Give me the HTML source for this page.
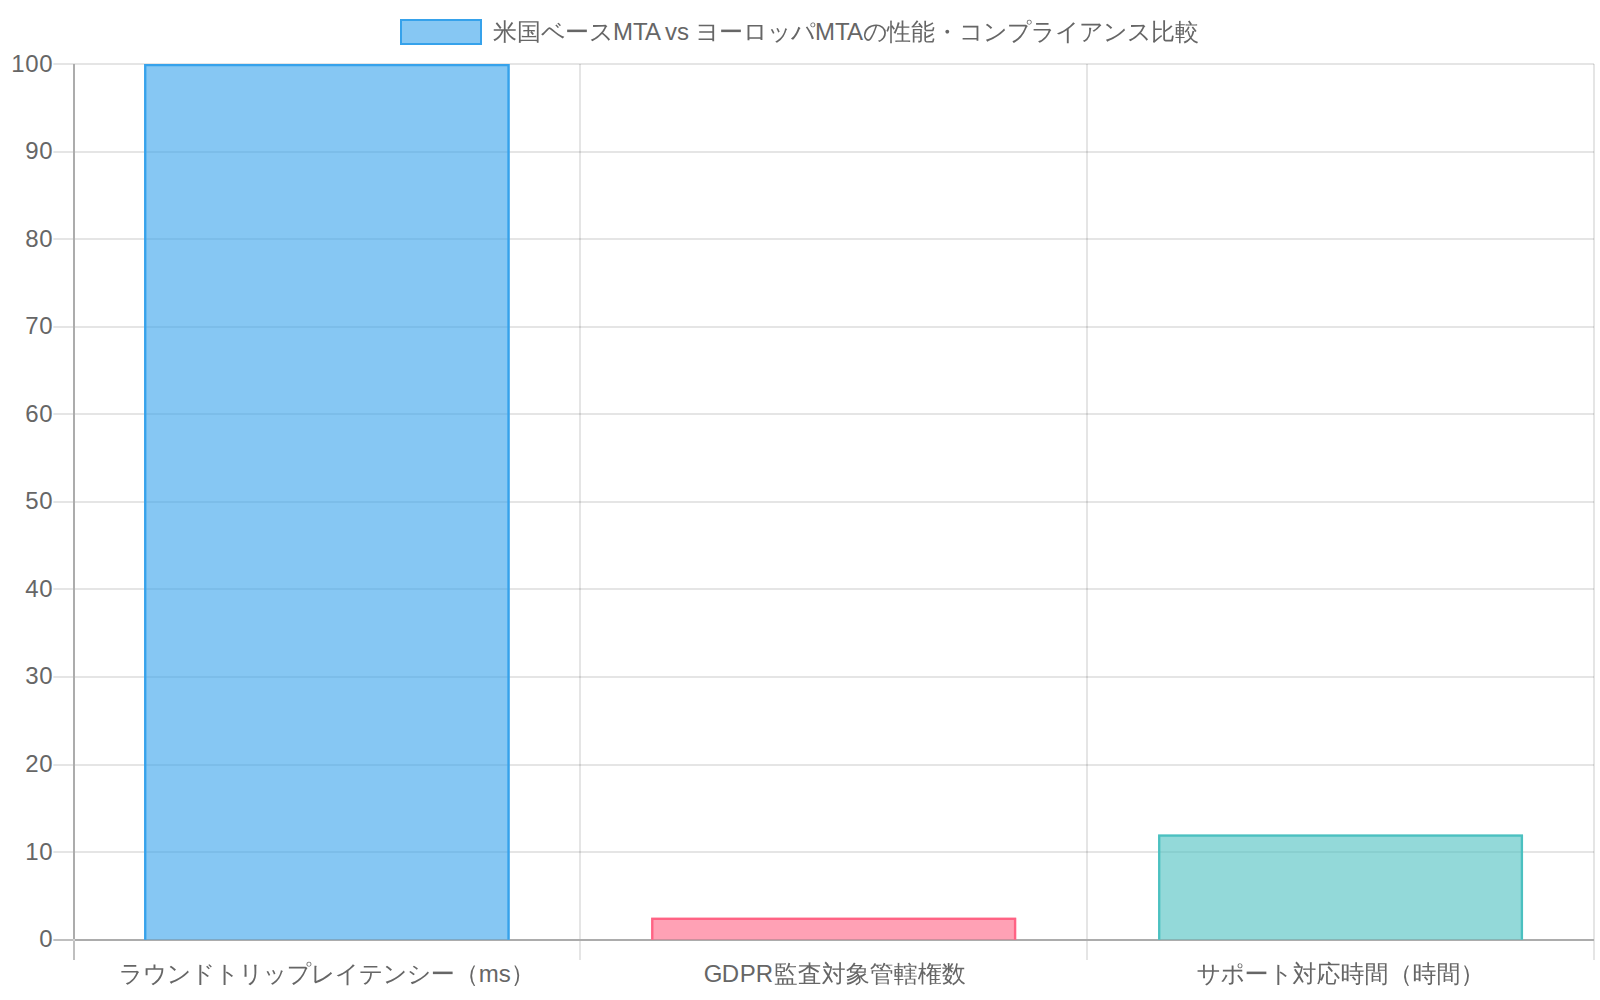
<!DOCTYPE html>
<html lang="ja"><head><meta charset="utf-8"><title>MTA比較</title>
<style>
html,body{margin:0;padding:0;background:#fff;}
body{width:1600px;height:1000px;overflow:hidden;}
svg{display:block;}
text{font-family:"Liberation Sans", "WenQuanYi Zen Hei", "Noto Sans CJK JP", sans-serif;font-size:24px;fill:#666;white-space:pre;}
</style></head><body>
<svg width="1600" height="1000" viewBox="0 0 1600 1000">

<g id="grid">
<rect x="579" y="64" width="2" height="896" fill="rgba(0,0,0,0.1)"/>
<rect x="1086" y="64" width="2" height="896" fill="rgba(0,0,0,0.1)"/>
<rect x="1593" y="64" width="2" height="896" fill="rgba(0,0,0,0.1)"/>
<rect x="53.33" y="63" width="1540.67" height="2" fill="rgba(0,0,0,0.1)"/>
<rect x="53.33" y="151" width="1540.67" height="2" fill="rgba(0,0,0,0.1)"/>
<rect x="53.33" y="238" width="1540.67" height="2" fill="rgba(0,0,0,0.1)"/>
<rect x="53.33" y="326" width="1540.67" height="2" fill="rgba(0,0,0,0.1)"/>
<rect x="53.33" y="413" width="1540.67" height="2" fill="rgba(0,0,0,0.1)"/>
<rect x="53.33" y="501" width="1540.67" height="2" fill="rgba(0,0,0,0.1)"/>
<rect x="53.33" y="588" width="1540.67" height="2" fill="rgba(0,0,0,0.1)"/>
<rect x="53.33" y="676" width="1540.67" height="2" fill="rgba(0,0,0,0.1)"/>
<rect x="53.33" y="764" width="1540.67" height="2" fill="rgba(0,0,0,0.1)"/>
<rect x="53.33" y="851" width="1540.67" height="2" fill="rgba(0,0,0,0.1)"/>
<rect x="53.33" y="939" width="19.67" height="2" fill="rgba(0,0,0,0.25)"/>
<rect x="73" y="941" width="2" height="19" fill="rgba(0,0,0,0.25)"/>
<rect x="73" y="64" width="2" height="875" fill="#acacac"/>
<rect x="75" y="939" width="1519" height="2" fill="#acacac"/>
<rect x="73" y="939" width="2" height="2" fill="#d0d0d0"/>
</g>
<g id="bars">
<rect x="144.10" y="64.00" width="365.55" height="875.65" fill="rgba(54,162,235,0.6)"/>
<path d="M145.25 939.65 V65.15 H508.50 V939.65" fill="none" stroke="rgb(54,162,235)" stroke-width="2.3"/>
<rect x="651.15" y="917.65" width="365.05" height="22.00" fill="rgba(255,99,132,0.6)"/>
<path d="M652.30 939.65 V918.80 H1015.05 V939.65" fill="none" stroke="rgb(255,99,132)" stroke-width="2.3"/>
<rect x="1158.07" y="834.55" width="364.97" height="105.10" fill="rgba(75,192,192,0.6)"/>
<path d="M1159.22 939.65 V835.70 H1521.89 V939.65" fill="none" stroke="rgb(75,192,192)" stroke-width="2.3"/>
</g>
<g id="yticks">
<text x="39.33" y="947.10">0</text>
<text x="25.33 39.33" y="859.55">10</text>
<text x="25.33 39.33" y="771.99">20</text>
<text x="25.33 39.33" y="684.43">30</text>
<text x="25.33 39.33" y="596.88">40</text>
<text x="25.33 39.33" y="509.32">50</text>
<text x="25.33 39.33" y="421.77">60</text>
<text x="25.33 39.33" y="334.21">70</text>
<text x="25.33 39.33" y="246.66">80</text>
<text x="25.33 39.33" y="159.10">90</text>
<text x="11.33 25.33 39.33" y="71.55">100</text>
</g>
<g id="xticks">
<text x="118.78 142.78 166.78 190.78 214.78 238.78 262.78 286.78 310.78 334.78 358.78 382.78 406.78 430.78 454.78 478.78 498.78 510.78" y="982">ラウンドトリップレイテンシー（ms）</text>
<text x="703.67 721.67 739.67 755.67 773.67 797.67 821.67 845.67 869.67 893.67 917.67 941.67" y="982">GDPR監査対象管轄権数</text>
<text x="1196.56 1220.56 1244.56 1268.56 1292.56 1316.56 1340.56 1364.56 1388.56 1412.56 1436.56 1460.56" y="982">サポート対応時間（時間）</text>
</g>
<g id="legend">
<rect x="401" y="20" width="80" height="24" fill="rgba(54,162,235,0.6)" stroke="rgb(54,162,235)" stroke-width="2"/>
<text x="493 517 541 565 589 613 633 645 659 665 677 689 695 719 743 767 791 815 835 847 863 887 911 935 959 983 1007 1031 1055 1079 1103 1127 1151 1175" y="40">米国ベースMTA vs ヨーロッパMTAの性能・コンプライアンス比較</text>
</g>
</svg></body></html>
